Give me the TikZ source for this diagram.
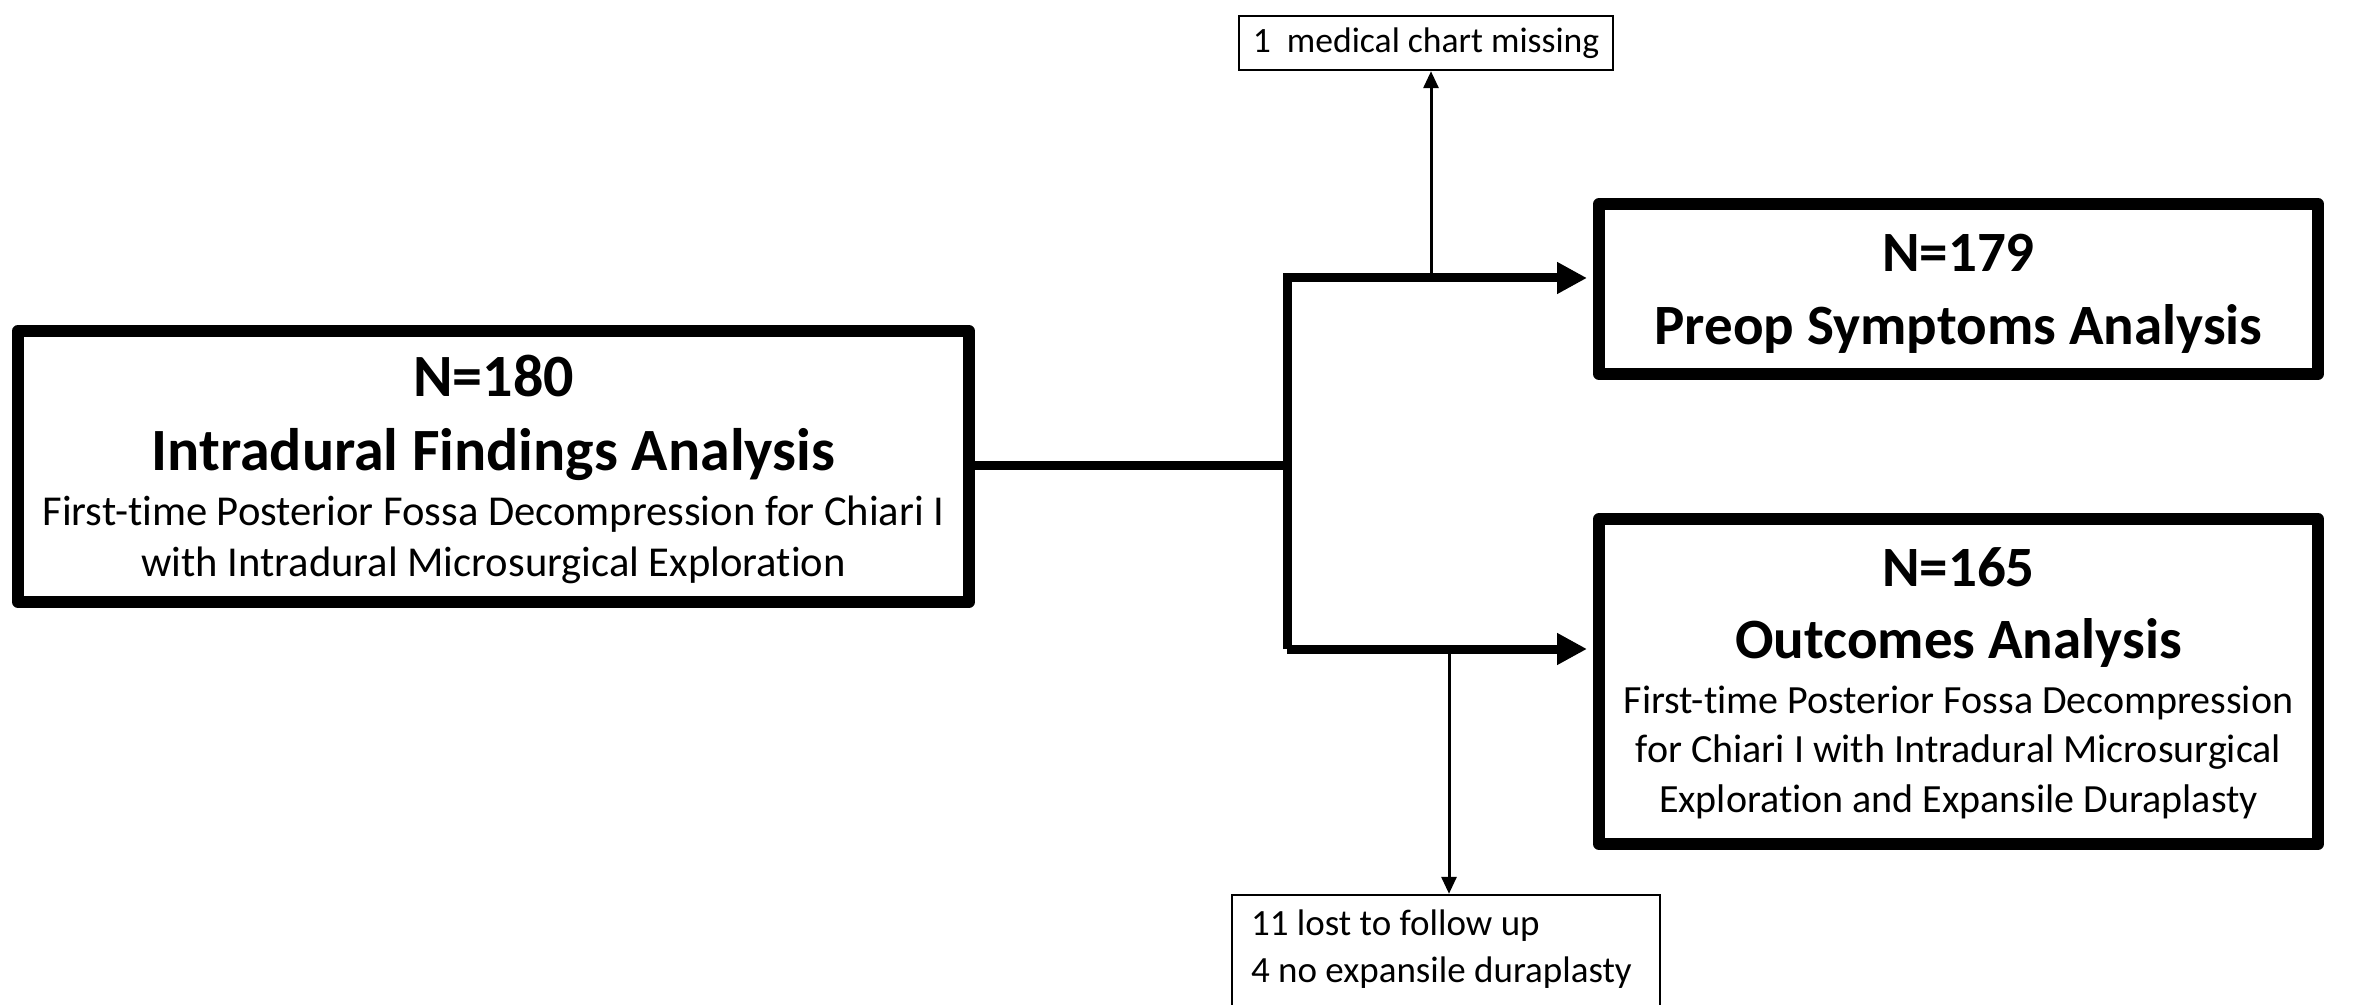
\documentclass[tikz,border=0pt]{standalone}
\usepackage{fontspec}
\setmainfont{Carlito}[Ligatures={NoCommon}]
\usetikzlibrary{arrows.meta}
\begin{document}
\begin{tikzpicture}[x=0.5pt,y=-0.5pt,
 bigbox/.style={draw, line width=6pt, line join=round, inner sep=0pt},
 smallbox/.style={draw, line width=1.2pt, inner sep=0pt},
 ttlL/.style={anchor=base, font=\fontsize{30}{36}\selectfont\bfseries},
 subL/.style={anchor=base, font=\fontsize{21.3}{25}\selectfont},
 ttl/.style={anchor=base, font=\fontsize{28.5}{34}\selectfont\bfseries},
 sub/.style={anchor=base, font=\fontsize{20}{24.5}\selectfont},
 noteT/.style={anchor=base, font=\fontsize{17.8}{23.5}\selectfont},
 noteB/.style={anchor=base west, font=\fontsize{18.5}{23.5}\selectfont},
 thickline/.style={line width=4.5pt},
 thickarrow/.style={line width=4.5pt,-{Triangle[length=15pt,width=15pt]}},
 thinarrow/.style={line width=1.5pt,-{Triangle[length=8.5pt,width=7.5pt]}}]
\fill[white] (0,0) rectangle (2379,1005);
\clip (0,0) rectangle (2379,1005);
% boxes
\node[bigbox, minimum width=475.5pt, minimum height=135.5pt] (a) at (493.5,466.5) {};
\node[bigbox, minimum width=359.5pt, minimum height=85pt] (b) at (1958.5,289) {};
\node[bigbox, minimum width=359.5pt, minimum height=162.5pt] (c) at (1958.5,681.5) {};
\node[smallbox, minimum width=187pt, minimum height=27pt] (m) at (1426,43) {};
\node[smallbox, minimum width=214pt, minimum height=82.5pt] (l) at (1446,977.5) {};
% texts
\node[ttlL] (a1) at (493.5,397) {N=180};
\node[ttlL] (a2) at (493.5,471) {Intradural Findings Analysis};
\node[subL] (a3) at (493.5,526) {First-time Posterior Fossa Decompression for Chiari I};
\node[subL] (a4) at (493.5,576) {with Intradural Microsurgical Exploration};
\node[ttl] (b1) at (1958.5,272) {N=179};
\node[ttl] (b2) at (1958.5,345) {Preop Symptoms Analysis};
\node[ttl] (c1) at (1958.5,587) {N=165};
\node[ttl] (c2) at (1958.5,659) {Outcomes Analysis};
\node[sub] (c3) at (1958.5,713) {First-time Posterior Fossa Decompression};
\node[sub] (c4) at (1958.5,762) {for Chiari I with Intradural Microsurgical};
\node[sub] (c5) at (1958.5,812) {Exploration and Expansile Duraplasty};
\node[noteT] (m1) at (1426,53) {1\ \ medical chart missing};
\node[noteB] (l1) at (1244,935) {11 lost to follow up};
\node[noteB] (l2) at (1244,982) {4 no expansile duraplasty};
% connectors
\coordinate (j) at (1287,466);
\coordinate (jt) at (1287,278);
\coordinate (jb) at (1287,649);
\coordinate (mt) at (1431,278);
\coordinate (lb) at (1449,649);
\draw[thickline] (a.east |- j) -- (j);
\draw[thickarrow] (jb) -- (jt) -- ([xshift=-3pt]b.west |- jt);
\draw[thickarrow] (jb) -- ([xshift=-3pt]c.west |- jb);
\draw[thinarrow] (mt) -- (m.south -| mt);
\draw[thinarrow] (lb) -- (l.north -| lb);
\end{tikzpicture}
\end{document}
